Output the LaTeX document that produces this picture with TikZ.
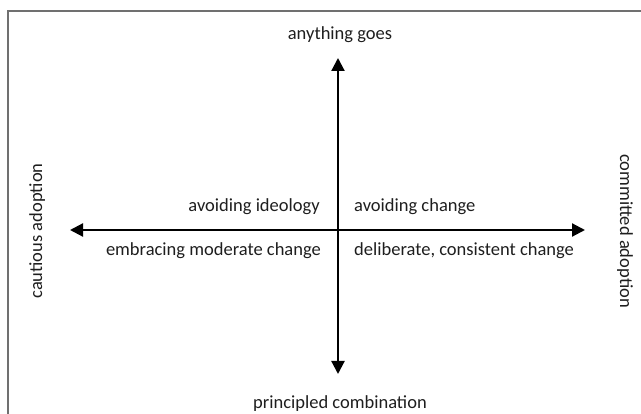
\documentclass[tikz,border=0pt]{standalone}
\usepackage{fontspec}
\setmainfont{Carlito}
\usetikzlibrary{arrows.meta}
\definecolor{framegray}{HTML}{707070}
\definecolor{txt}{HTML}{1E1E1E}
\tikzset{
  lbl/.style={inner sep=0pt, anchor=base, text=txt, font=\fontsize{18.5}{22}\selectfont},
  axis/.style={line width=2.2pt, {Triangle[length=13pt,width=13pt]}-{Triangle[length=13pt,width=13pt]}},
  frameline/.style={draw=framegray, line width=1.5pt}
}
\begin{document}
\begin{tikzpicture}[x=1pt,y=-1pt]
\useasboundingbox (0,0) rectangle (641,414);
\draw[frameline] (8,414) -- (8,11) -- (641,11);
% axis end points
\coordinate (top) at (338,58);
\coordinate (bottom) at (338,374);
\coordinate (left) at (70,230);
\coordinate (right) at (585,230);
\draw[axis] (top) -- (bottom);
\draw[axis] (left) -- (right);
% labels
\node[lbl] (anything) at (340,40) {anything goes};
\node[lbl] (principled) at (340,409) {principled combination};
\node[lbl, anchor=base east] (ideology) at (320,212) {avoiding ideology};
\node[lbl, anchor=base west] (avchange) at (354,212) {avoiding change};
\node[lbl, anchor=base east] (embracing) at (321,256) {embracing moderate change};
\node[lbl, anchor=base west] (deliberate) at (354,256) {deliberate, consistent change};
\node[lbl, rotate=90] (cautious) at (42,231) {cautious adoption};
\node[lbl, rotate=-90] (committed) at (620,231) {committed adoption};
\end{tikzpicture}
\end{document}
